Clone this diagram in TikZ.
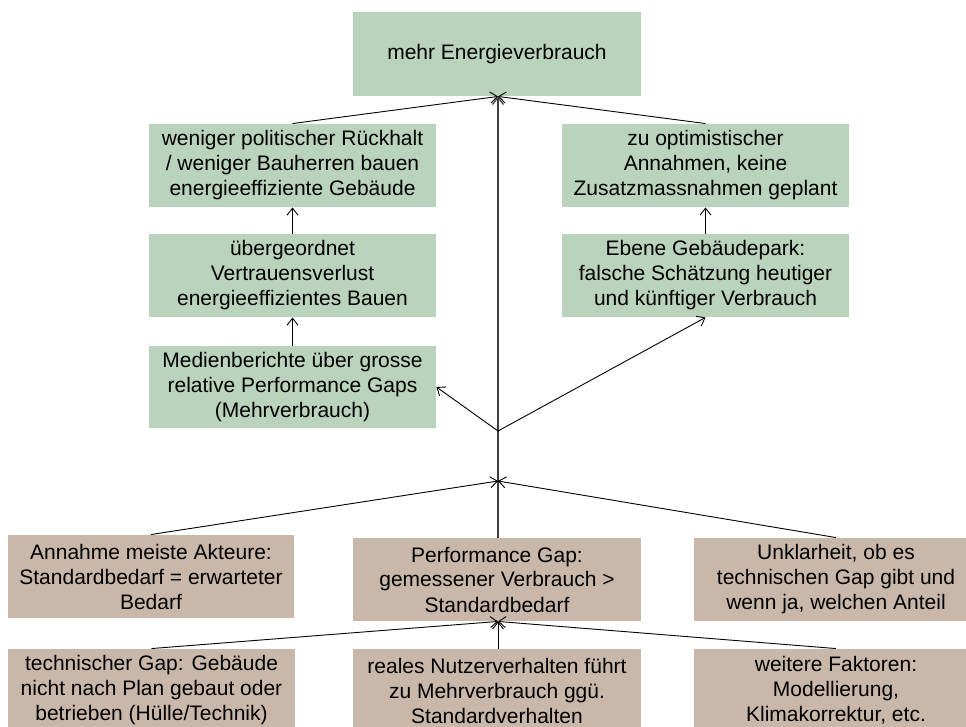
\documentclass[tikz,border=0pt]{standalone}
\usepackage{fontspec}
\setmainfont{Liberation Sans}
\usepackage{tikz}
\usetikzlibrary{arrows.meta}
\definecolor{boxgreen}{RGB}{186,211,188}
\definecolor{boxbrown}{RGB}{201,184,169}
\tikzset{
  effect/.style={fill=boxgreen,inner sep=0pt,align=center,minimum width=287pt,minimum height=83pt,
    font=\fontsize{21}{25}\selectfont},
  cause/.style={effect,fill=boxbrown,minimum width=286pt}
}

\begin{document}
\begin{tikzpicture}[x=1pt,y=-1pt,->,>={Straight Barb[length=7pt,width=11pt]},line width=0.9pt]
  \useasboundingbox (0,0) rectangle (966,727);
  \node[effect,minimum width=288pt,minimum height=84pt] (mehr) at (497,54) {mehr Energieverbrauch};
  \node[effect] (rueckhalt) at (292.5,165.5) {weniger politischer Rückhalt\\/ weniger Bauherren bauen\\energieeffiziente Gebäude};
  \node[effect] (vertrauen) at (292.5,275.5) {übergeordnet\\Vertrauensverlust\\energieeffizientes Bauen};
  \node[effect,minimum height=82pt] (medien) at (292.5,387) {Medienberichte über grosse\\relative Performance Gaps\\(Mehrverbrauch)};
  \node[effect] (annahmen) at (705.5,165.5) {zu optimistischer\\Annahmen, keine\\Zusatzmassnahmen geplant};
  \node[effect] (park) at (705.5,275.5) {Ebene Gebäudepark:\\falsche Schätzung heutiger\\und künftiger Verbrauch};
  \node[cause] (akteure) at (151,576.5) {Annahme meiste Akteure:\\Standardbedarf = erwarteter\\Bedarf};
  \node[cause,minimum width=288pt] (gap) at (497,579.5) {Performance Gap:\\gemessener Verbrauch >\\Standardbedarf};
  \node[cause,minimum width=284pt] (unklar) at (836,579.5) {Unklarheit, ob es\\technischen Gap gibt und\\wenn ja, welchen Anteil};
  \node[cause,minimum width=287pt] (technik) at (151.5,690.5) {technischer Gap: Gebäude\\nicht nach Plan gebaut oder\\betrieben (Hülle/Technik)};
  \node[cause,minimum width=288pt] (nutzer) at (497,690.5) {reales Nutzerverhalten führt\\zu Mehrverbrauch ggü.\\Standardverhalten};
  \node[cause,minimum width=284pt] (faktoren) at (836,690.5) {weitere Faktoren:\\Modellierung,\\Klimakorrektur, etc.};
  \coordinate (split) at (498,431);
  \coordinate (merge) at (498,481);

  \draw[black!75,line width=1.3pt] (gap.north -| merge) -- (mehr.south -| merge);
  \draw (rueckhalt.north) -- (mehr.south -| merge);
  \draw (annahmen.north) -- (mehr.south -| merge);
  \draw (vertrauen.north) -- (rueckhalt.south);
  \draw (medien.north) -- (vertrauen.south);
  \draw (park.north) -- (annahmen.south);
  \draw (split) -- (medien.east);
  \draw (split) -- (park.south);
  \draw (akteure.north) -- (merge);
  \draw (unklar.north -| faktoren.north) -- (merge);
  \draw (technik.north) -- (gap.south -| merge);
  \draw (nutzer.north -| merge) -- (gap.south -| merge);
  \draw (faktoren.north) -- (gap.south -| merge);
\end{tikzpicture}
\end{document}
